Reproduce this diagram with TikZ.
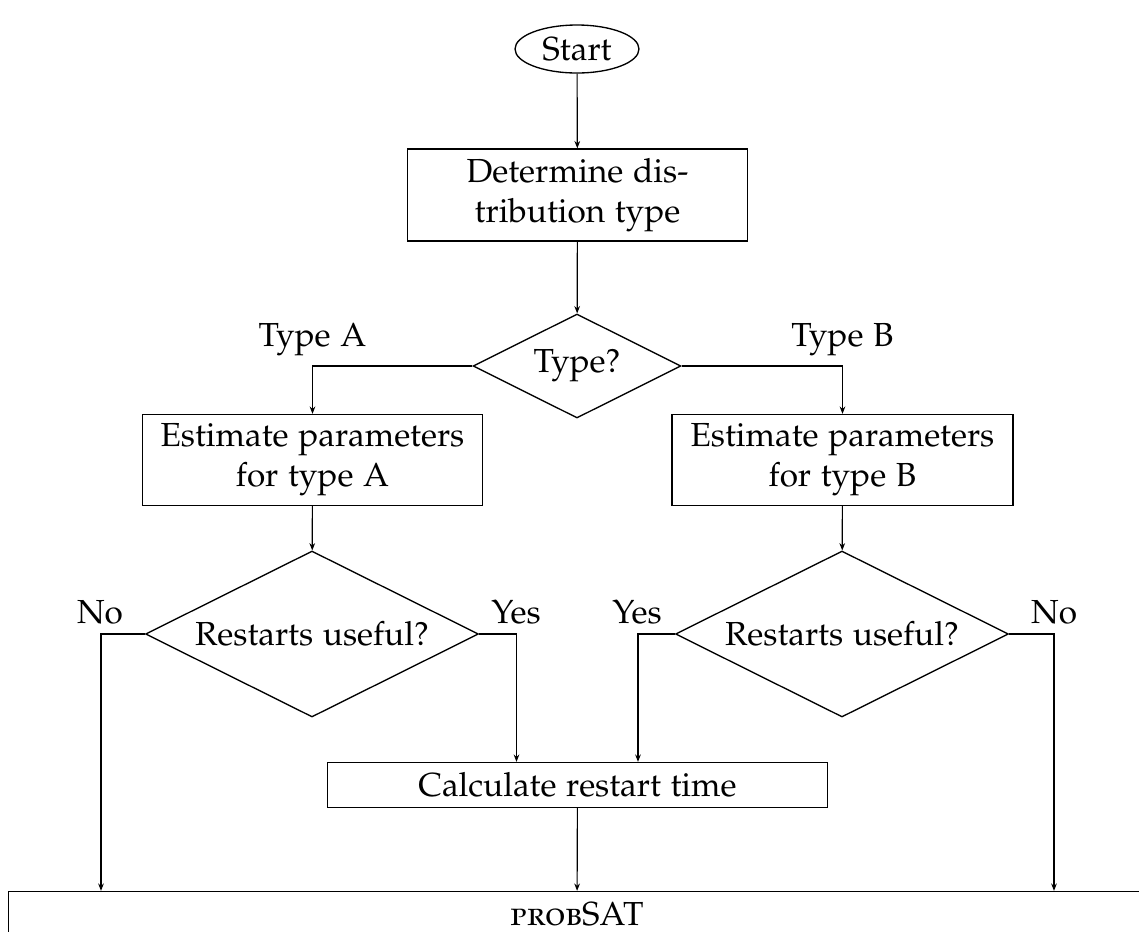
\documentclass[tikz,border=0pt]{standalone}
\usepackage[T1]{fontenc}
\usepackage[sc]{mathpazo}
\usetikzlibrary{shapes.geometric,arrows.meta}
\tikzset{
  box/.style={draw, rectangle, inner sep=0pt, align=center, font=\normalsize},
  dec/.style={draw, diamond, aspect=2, inner sep=0pt, align=center},
  startbox/.style={draw, ellipse, inner sep=0pt, minimum width=37.2pt, minimum height=14.4pt},
  lbl/.style={inner sep=0pt, anchor=center},
  arr/.style={-{Stealth[length=2.2pt,width=1.7pt]}, line width=0.35pt},
}
\begin{document}
\begin{tikzpicture}[x=0.3pt, y=-0.3pt]
\clip (0,0) rectangle (1139,932);
\node[startbox] (start) at (577,49) {Start};
\node[box, minimum width=102pt, minimum height=27.6pt] (det) at (577.5,195) {Determine dis-\\tribution type};
\node[dec, minimum width=62.4pt, minimum height=31.2pt] (type) at (577,366) {Type?};
\node[box, minimum width=102pt, minimum height=27.3pt] (ta) at (312.5,460) {Estimate parameters\\for type A};
\node[box, minimum width=102.3pt, minimum height=27.3pt] (tb) at (842.5,460) {Estimate parameters\\for type B};
\node[dec, minimum width=99.9pt, minimum height=49.8pt] (ra) at (312,634) {Restarts useful?};
\node[dec, minimum width=99.9pt, minimum height=49.8pt] (rb) at (842,634) {Restarts useful?};
\node[box, minimum width=150pt, minimum height=13.5pt] (calc) at (577.5,785) {Calculate restart time};
\node[box, minimum width=341.1pt, minimum height=13.5pt] (sat) at (577,914) {\textsc{prob}SAT};

\node[lbl] (lta) at (312.5,340) {Type A};
\node[lbl] (ltb) at (842.5,340) {Type B};
\node[lbl] (lnoa) at (100,612) {No};
\node[lbl] (lyesa) at (516,612) {Yes};
\node[lbl] (lyesb) at (637,612) {Yes};
\node[lbl] (lnob) at (1054,612) {No};

\coordinate (noA) at (101,634);
\coordinate (yesA) at (516.5,634);
\coordinate (yesB) at (638,634);
\coordinate (noB) at (1054,634);

\draw[arr] (start) -- (det);
\draw[arr] (det) -- (type);
\draw[arr] (type.west) -| (ta.north);
\draw[arr] (type.east) -| (tb.north);
\draw[arr] (ta) -- (ra);
\draw[arr] (tb) -- (rb);
\draw[arr] (ra.west) -| (noA |- sat.north);
\draw[arr] (ra.east) -| (yesA |- calc.north);
\draw[arr] (rb.west) -| (yesB |- calc.north);
\draw[arr] (rb.east) -| (noB |- sat.north);
\draw[arr] (calc) -- (sat);
\end{tikzpicture}
\end{document}
